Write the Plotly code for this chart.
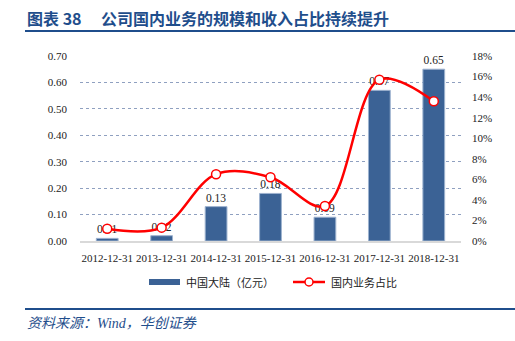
import plotly.graph_objects as go

# Data
dates = ["2012-12-31", "2013-12-31", "2014-12-31", "2015-12-31",
         "2016-12-31", "2017-12-31", "2018-12-31"]
mainland_rev = [0.01, 0.02, 0.13, 0.18, 0.09, 0.57, 0.65]   # 中国大陆（亿元）
domestic_share = [1.2, 1.3, 6.5, 6.2, 3.4, 15.7, 13.6]        # 国内业务占比 (%)
left_ticks = [0.0, 0.1, 0.2, 0.3, 0.4, 0.5, 0.6, 0.7]
right_ticks = [0, 2, 4, 6, 8, 10, 12, 14, 16, 18]

BAR_COLOR = "#3B6295"
LINE_COLOR = "#FF0000"
NAVY = "#1F4E8C"
SERIF = "Liberation Serif"
CJK = "Noto Sans CJK SC"

W, H = 515, 341
L, R, T, B = 80, 54, 56, 100


def px(x):
    return (x - L) / (W - L - R)


def py(y):
    return (H - B - y) / (H - T - B)


fig = go.Figure()

fig.add_trace(go.Bar(
    x=dates, y=mainland_rev, name="中国大陆（亿元）",
    marker=dict(color=BAR_COLOR, line=dict(color="#9DB2CF", width=1)),
    width=0.4,
    text=[f"{v:.2f}" for v in mainland_rev], textposition="outside",
    textfont=dict(family=SERIF, size=11.5, color="#222222"),
    cliponaxis=False, showlegend=False,
))

fig.add_trace(go.Scatter(
    x=dates, y=domestic_share, yaxis="y2", name="国内业务占比",
    mode="lines+markers",
    line=dict(color=LINE_COLOR, width=2.5, shape="spline", smoothing=1.0),
    marker=dict(symbol="circle", size=9, color="white",
                line=dict(color=LINE_COLOR, width=1.5)),
    cliponaxis=False, showlegend=False,
))

shapes = [
    # title underline
    dict(type="line", xref="paper", yref="paper", x0=px(25), x1=px(515),
         y0=py(31), y1=py(31), line=dict(color=NAVY, width=2)),
    # source separator
    dict(type="line", xref="paper", yref="paper", x0=px(25), x1=px(515),
         y0=py(309), y1=py(309), line=dict(color=NAVY, width=2)),
    # legend swatches
    dict(type="rect", xref="paper", yref="paper", x0=px(149), x1=px(180),
         y0=py(285), y1=py(279), fillcolor=BAR_COLOR, line=dict(width=0)),
    dict(type="line", xref="paper", yref="paper", x0=px(293), x1=px(325),
         y0=py(282), y1=py(282), line=dict(color=LINE_COLOR, width=2.5)),
    dict(type="circle", xref="paper", yref="paper", x0=px(305), x1=px(313),
         y0=py(286), y1=py(278), fillcolor="white",
         line=dict(color=LINE_COLOR, width=1.5)),
]

annotations = [
    dict(text="<b>图表 38</b>", xref="paper", yref="paper", x=px(25),
         y=py(18), xanchor="left", yanchor="middle", showarrow=False,
         font=dict(family=CJK, size=16, color=NAVY)),
    dict(text="<b>公司国内业务的规模和收入占比持续提升</b>",
         xref="paper", yref="paper", x=px(99), y=py(18), xanchor="left",
         yanchor="middle", showarrow=False,
         font=dict(family=CJK, size=16, color=NAVY)),
    dict(text="中国大陆（亿元）", xref="paper", yref="paper", x=px(184),
         y=py(282), xanchor="left", yanchor="middle", showarrow=False,
         font=dict(family=CJK, size=11, color="#222222")),
    dict(text="国内业务占比", xref="paper", yref="paper", x=px(329),
         y=py(282), xanchor="left", yanchor="middle", showarrow=False,
         font=dict(family=CJK, size=11, color="#222222")),
    dict(text="<i>资料来源：Wind，华创证券</i>", xref="paper", yref="paper",
         x=px(25), y=py(323), xanchor="left", yanchor="middle",
         showarrow=False,
         font=dict(family=f"{SERIF}, {CJK}", size=14, color=NAVY)),
]

fig.update_layout(
    width=W, height=H,
    margin=dict(l=L, r=R, t=T, b=B, pad=0),
    paper_bgcolor="white", plot_bgcolor="white",
    bargap=0.6,
    font=dict(family=SERIF, size=11, color="#222222"),
    xaxis=dict(
        type="category", showgrid=False, ticks="", showline=True,
        linecolor="#D9D9D9", linewidth=2, tickangle=0,
        ticklabelstandoff=6,
        tickfont=dict(family=SERIF, size=11, color="#222222"),
    ),
    yaxis=dict(
        range=[0, 0.7], tickvals=left_ticks,
        ticktext=[f"{v:.2f}" for v in left_ticks],
        showgrid=True, gridcolor="#8FA0C0", griddash="dot", gridwidth=1,
        zeroline=False, showline=False, ticks="", ticklabelstandoff=12,
        tickfont=dict(family=SERIF, size=11, color="#222222"),
    ),
    yaxis2=dict(
        range=[0, 18], tickvals=right_ticks,
        ticktext=[f"{v}%" for v in right_ticks],
        overlaying="y", side="right", showgrid=False, zeroline=False,
        showline=False, ticks="", ticklabelstandoff=10,
        tickfont=dict(family=SERIF, size=11, color="#222222"),
    ),
    shapes=shapes,
    annotations=annotations,
)

fig.write_html("out.html")
